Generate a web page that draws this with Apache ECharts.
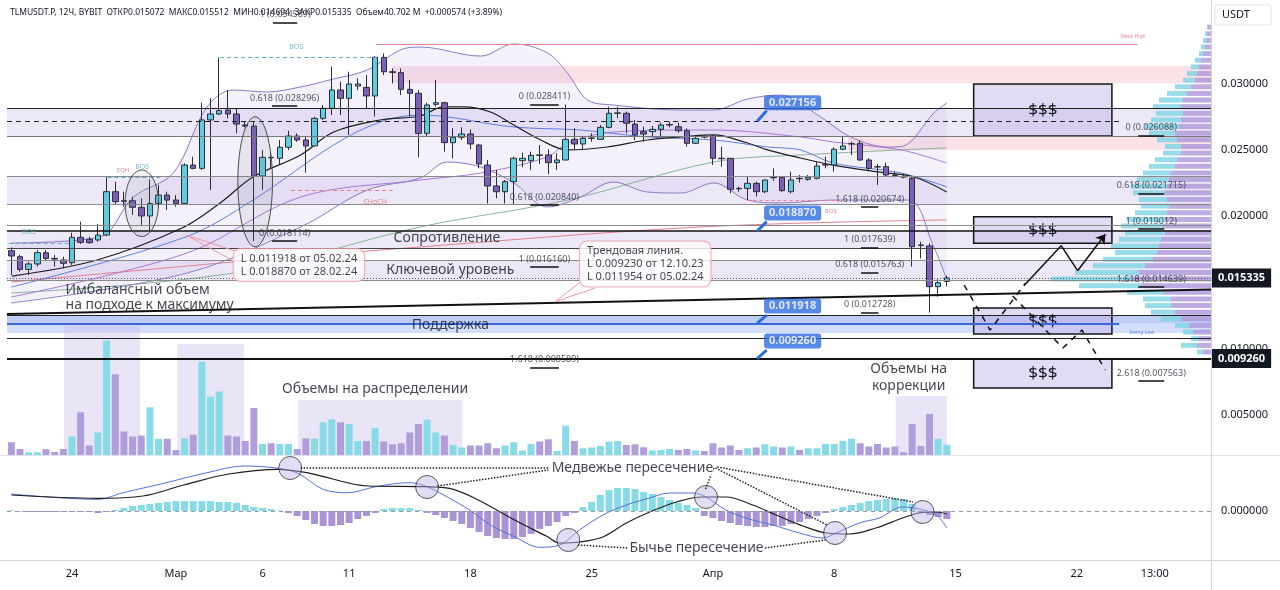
<!DOCTYPE html>
<html><head><meta charset="utf-8">
<script src="https://cdn.jsdelivr.net/npm/echarts@6/dist/echarts.min.js"></script>
<style>html,body{margin:0;padding:0;background:#fff}#c{width:1280px;height:590px}</style>
</head><body><div id="c"></div>
<script>
// ---------- time axis (12h slots) ----------
const START = Date.UTC(2024, 1, 20, 12, 0);
const SLOT_COUNT = 139;
const categories = [];
for (let i = 0; i < SLOT_COUNT; i++) {
  categories.push(new Date(START + i * 12 * 3600e3).toISOString().slice(0, 16).replace('T', ' '));
}
const xTickLabels = {7:'24',19:'Мар',29:'6',39:'11',53:'18',67:'25',81:'Апр',95:'8',109:'15',123:'22',132:'13:00'};
const priceTicks = [0.005, 0.010, 0.020, 0.025, 0.030];

// ---------- candles [open, close, low, high] ----------
const candles = [
[0.01739,0.01699,0.01553,0.01764],[0.01694,0.01598,0.01581,0.01707],[0.01598,0.01639,0.01556,0.01656],[0.01639,0.01724,0.01619,0.01744],
[0.01724,0.01681,0.01669,0.01744],[0.01681,0.01676,0.01619,0.01707],[0.01669,0.01644,0.01606,0.01694],[0.01649,0.01840,0.01631,0.01875],
[0.01840,0.01802,0.01790,0.01958],[0.01825,0.01800,0.01790,0.01845],[0.01820,0.01857,0.01807,0.01940],[0.01857,0.02184,0.01850,0.02292],
[0.02184,0.02109,0.02084,0.02260],[0.02116,0.02112,0.02071,0.02184],[0.02116,0.02066,0.02008,0.02147],[0.02066,0.02001,0.01933,0.02134],
[0.02001,0.02096,0.01890,0.02277],[0.02096,0.02159,0.02066,0.02235],[0.02159,0.02121,0.02046,0.02184],[0.02121,0.02096,0.02071,0.02159],
[0.02096,0.02385,0.02091,0.02398],[0.02385,0.02360,0.02353,0.02448],[0.02360,0.02725,0.02348,0.02855],[0.02725,0.02770,0.02197,0.02888],
[0.02770,0.02795,0.02762,0.03197],[0.02800,0.02770,0.02737,0.02951],[0.02770,0.02694,0.02624,0.02813],[0.02687,0.02679,0.02669,0.02712],
[0.02679,0.02302,0.01811,0.02712],[0.02302,0.02443,0.02197,0.02498],[0.02443,0.02440,0.02360,0.02478],[0.02436,0.02519,0.02393,0.02574],
[0.02519,0.02604,0.02498,0.02644],[0.02604,0.02574,0.02561,0.02624],[0.02574,0.02529,0.02328,0.02599],[0.02529,0.02737,0.02524,0.02750],
[0.02737,0.02813,0.02725,0.02838],[0.02813,0.02951,0.02762,0.03127],[0.02951,0.02888,0.02762,0.03014],[0.02888,0.02996,0.02612,0.03089],
[0.02981,0.02996,0.02951,0.03039],[0.02971,0.02906,0.02813,0.03064],[0.02906,0.03197,0.02750,0.03207],[0.03197,0.03089,0.03064,0.03227],
[0.03089,0.03084,0.03001,0.03114],[0.03082,0.02956,0.02913,0.03114],[0.02956,0.02926,0.02750,0.03026],[0.02926,0.02624,0.02443,0.02951],
[0.02624,0.02838,0.02599,0.02855],[0.02843,0.02855,0.02825,0.03026],[0.02855,0.02554,0.02486,0.02863],[0.02554,0.02594,0.02436,0.02662],
[0.02594,0.02619,0.02574,0.02669],[0.02619,0.02544,0.02504,0.02654],[0.02536,0.02393,0.02360,0.02544],[0.02385,0.02227,0.02096,0.02423],
[0.02227,0.02184,0.02134,0.02348],[0.02184,0.02260,0.02096,0.02272],[0.02260,0.02436,0.02084,0.02448],[0.02418,0.02436,0.02368,0.02478],
[0.02418,0.02458,0.02348,0.02486],[0.02461,0.02458,0.02393,0.02536],[0.02461,0.02403,0.02317,0.02504],[0.02403,0.02423,0.02348,0.02473],
[0.02423,0.02579,0.02423,0.02841],[0.02579,0.02544,0.02498,0.02662],[0.02544,0.02586,0.02498,0.02599],[0.02586,0.02589,0.02561,0.02624],
[0.02579,0.02669,0.02574,0.02687],[0.02669,0.02775,0.02662,0.02825],[0.02775,0.02778,0.02737,0.02825],[0.02775,0.02700,0.02624,0.02788],
[0.02694,0.02612,0.02574,0.02725],[0.02637,0.02619,0.02561,0.02674],[0.02637,0.02654,0.02599,0.02679],[0.02654,0.02687,0.02604,0.02705],
[0.02687,0.02690,0.02669,0.02712],[0.02674,0.02644,0.02629,0.02705],[0.02644,0.02549,0.02524,0.02662],[0.02549,0.02586,0.02544,0.02604],
[0.02599,0.02596,0.02586,0.02612],[0.02604,0.02436,0.02385,0.02612],[0.02436,0.02433,0.02373,0.02524],[0.02436,0.02202,0.02172,0.02436],
[0.02209,0.02206,0.02184,0.02222],[0.02209,0.02247,0.02121,0.02297],[0.02247,0.02184,0.02147,0.02260],[0.02184,0.02272,0.02172,0.02277],
[0.02290,0.02292,0.02267,0.02360],[0.02292,0.02192,0.02184,0.02297],[0.02184,0.02272,0.02172,0.02335],[0.02285,0.02282,0.02252,0.02310],
[0.02277,0.02292,0.02267,0.02310],[0.02285,0.02378,0.02277,0.02410],[0.02385,0.02388,0.02360,0.02448],[0.02385,0.02504,0.02335,0.02519],
[0.02504,0.02529,0.02498,0.02599],[0.02544,0.02546,0.02461,0.02561],[0.02549,0.02423,0.02418,0.02574],[0.02423,0.02360,0.02348,0.02436],
[0.02373,0.02370,0.02235,0.02393],[0.02373,0.02310,0.02297,0.02403],[0.02310,0.02307,0.02292,0.02335],[0.02297,0.02295,0.02285,0.02320],
[0.02285,0.01769,0.01619,0.02297],[0.01782,0.01779,0.01681,0.01807],[0.01775,0.01468,0.01273,0.01795],[0.01468,0.01498,0.01392,0.01523],
[0.015072,0.015335,0.014694,0.015512]
];

// ---------- volume (M) ----------
const volumes = [51,24,11,11,23,12,24,74,171,38,90,458,323,94,74,78,191,65,65,20,67,81,373,233,254,78,74,56,188,44,
47,44,44,24,66,66,131,142,131,124,56,56,108,54,43,47,90,124,142,90,78,40,30,38,38,47,27,38,51,18,
44,54,63,16,117,56,27,30,36,54,56,40,43,31,18,20,24,20,24,18,16,47,30,38,20,27,30,43,34,30,
34,20,27,27,44,44,56,65,47,34,44,30,34,11,124,36,164,65,41];

// ---------- MACD (x1e-5) ----------
const macdHist = [0.5,-0.5,-1,-1,-1,-1,-1,-1,-1,-1,-2,-1,
1,3,5,6,7,8,9,10,10,10,10,10,9,9,8,6,4,3,2,0.5,
-2,-5,-9,-13,-15,-15,-14,-12,-8,-5,-2,
2,3,3,3,1,
-2,-4,-7,-10,-13,-17,-21,-25,-27,-28,-28,-26,-23,-18,-15,-11,-5,-2,
4,9,16,21,23,23,22,19,17,14,11,8,6,3,
-5,-7,-10,-12,-14,-15,-16,-16,-15,-15,-13,-11,-8,-5,-2,
2,4,6,8,10,11,12,13,12,7,
-2,-4,-6,-8];
const macdLine = [[0,17],[10,11.7],[12.9,18.3],[17.6,27.7],[22.3,37.7],[27,45],[30.8,42.7],[33.1,37.7],[36,21.7],[38.8,18.3],[42.1,24.3],[45.9,28.3],[47.8,25],[50.6,12.7],[52.9,1],[55.3,-14],[58.1,-25.7],[61,-36.3],[63.3,-34],[65.6,-19],[68.3,-4],[71,6],[73.7,13],[76,18],[78.7,18],[80.2,14],[82.5,1],[84.8,-7],[87.9,-14],[91,-22],[93.7,-27],[95.2,-22],[97.9,-12],[100.2,-7],[102.9,4],[104.8,2],[106.8,-4],[108,-17]];
const signalLine = [[0,16],[10,12.7],[15.2,15],[19.9,26],[25.1,37],[30.8,41.7],[34.5,37.7],[41.2,25],[47.8,24.3],[50.6,22.7],[53.9,11],[58.1,-9],[61.9,-25.7],[63.3,-32],[65.6,-31],[68.3,-26],[71,-12],[73.7,-1],[76.8,9],[79.8,14],[82.5,14],[85.6,6],[88.3,-4],[91.4,-15],[94.1,-22],[96.8,-23],[99.8,-17],[102.9,-7],[104.8,-2],[106.8,-1],[108,-3]];
const macdCrosses = [[32.2,43],[48,24],[64.3,-29],[80.2,14],[95.1,-22],[105.2,-1]];

// ---------- indicator lines [slot, price] ----------
const maBasis = [[0.1,0.01548],[9.9,0.01669],[19.7,0.0191],[24.1,0.02099],[27.9,0.02295],[33.4,0.02461],[37.2,0.02634],[42.6,0.02725],[47.2,0.02755],[49.9,0.02823],[52.2,0.02823],[55.3,0.02785],[58,0.02687],[61.1,0.02574],[64.2,0.02499],[68.8,0.02521],[73.4,0.02574],[77.3,0.02597],[81.1,0.02612],[85,0.02551],[87.3,0.02499],[91.1,0.02438],[94.9,0.02385],[100,0.02333],[104.2,0.02295],[108,0.02182]];
const bbUpper = [[0,0.01797],[10.2,0.01842],[14.1,0.02144],[18.7,0.02325],[22.6,0.02823],[25.6,0.02951],[29.5,0.02936],[33.4,0.02974],[37.2,0.03034],[41.1,0.03102],[44.9,0.03253],[47.2,0.03275],[54.2,0.03207],[58,0.03298],[61.9,0.0323],[64.2,0.03079],[66.5,0.02876],[69.5,0.02838],[77.3,0.028],[81.1,0.028],[85,0.02883],[88.8,0.02913],[93.1,0.02762],[96.9,0.02597],[101.2,0.02521],[103,0.02529],[106.5,0.02778],[108,0.02853]];
const bbLower = [[0,0.01345],[20.3,0.01571],[33.4,0.01918],[41.1,0.02197],[47.2,0.02287],[50.3,0.02408],[54.2,0.0237],[58,0.0225],[61.9,0.02069],[65.7,0.02144],[69.5,0.02257],[73.4,0.02182],[77.3,0.02174],[81.1,0.0225],[85,0.02121],[88.8,0.02099],[94.9,0.02121],[103.5,0.02121],[106.5,0.01767],[108,0.01518]];
const maBlue = [[0,0.01465],[20.1,0.01842],[27.9,0.02121],[37.2,0.02536],[42.6,0.0271],[47.2,0.02762],[58,0.02672],[65.7,0.02649],[73.4,0.02597],[81.1,0.02574],[87.3,0.02521],[91.1,0.02499],[94.9,0.024],[102.7,0.02325],[108,0.0222]];
const maViolet = [[0,0.0139],[20.3,0.01722],[33.4,0.02144],[47.2,0.02272],[54.2,0.02325],[61.9,0.02446],[64.2,0.02551],[69.5,0.02634],[77.3,0.02649],[81.1,0.02649],[91.1,0.02597],[94.9,0.02559],[102.7,0.02499],[108,0.024]];
const maGreen = [[0,0.0142],[25.6,0.01571],[47.2,0.01918],[64.2,0.02121],[81.1,0.02408],[91.1,0.02461],[108,0.02514]];
const maRed = [[0,0.01503],[25.6,0.01654],[42.6,0.01744],[79.5,0.01918],[108,0.01971]];

// ---------- volume profile (px-width units), bins from 0.0095 step 0.0005 ----------
const vpBins = []; for (let k = 0; k < 50; k++) vpBins.push((0.00975 + k * 0.0005).toFixed(5));
const vpTotal = [14,30,20,28,36,50,60,66,68,84,132,160,136,118,108,96,100,92,86,90,84,76,70,72,78,80,74,68,62,56,48,46,54,62,66,60,55,58,52,44,36,28,24,20,16,12,10,8,6,4];
const vpDown  = [8,14,12,18,22,30,36,40,40,48,70,78,72,66,58,54,52,50,46,48,46,44,42,44,46,44,42,40,36,34,30,30,34,36,32,30,28,30,28,24,20,16,14,12,10,8,6,5,4,3];

// ---------- levels ----------
const lastPrice = 0.015335;
const levelLines = [[0.02813,'#222',1],[0.02604,'#777',1],[0.02297,'#8a8a8a',1],[0.02089,'#8a8a8a',1],[0.01933,'#8a8a8a',1],[0.01887,'#111',1.5],[0.01757,'#444',1],[0.01669,'#8a8a8a',1],[0.01515,'#8a8a8a',1],[0.01255,'#222',1],[0.01081,'#222',1]];
const lavenderZones = [[0.02813,0.02604],[0.02297,0.02089],[0.01887,0.01757],[0.01669,0.01515]];
const fibLevels = [
['1 (0.034589)',0.034589,30.2,33.0],['0.618 (0.028296)',0.028296,30.1,33.0],['0 (0.018114)',0.018114,30.1,33.0],
['0 (0.028411)',0.028411,59.9,63.2],['0.618 (0.020840)',0.02084,59.9,63.2],['1 (0.016160)',0.01616,59.9,63.2],['1.618 (0.008589)',0.008589,59.9,63.2],
['1.618 (0.020674)',0.020674,98.1,100.1],['1 (0.017639)',0.017639,98.1,100.1],['0.618 (0.015763)',0.015763,98.1,100.1],['0 (0.012728)',0.012728,98.1,100.1],
['0 (0.026088)',0.026088,130.1,133.1],['0.618 (0.021715)',0.021715,130.1,133.1],['1 (0.019012)',0.019012,130.1,133.1],['1.618 (0.014639)',0.014639,130.1,133.1],['2.618 (0.007563)',0.007563,130.1,133.1]
];
const blueTags = [[0.027156,0.02855,0.02795],[0.01887,0.02023,0.01958],[0.011918,0.01322,0.01254],[0.00926,0.01058,0.0099]];
const moneyBoxes = [[0.02996,0.02604],[0.01995,0.01795],[0.01307,0.01111],[0.00922,0.00704]];
const zigzagSolid = [[116.9,0.014751],[121.2,0.017768],[123.1,0.015883]];
const zigzagArrow = [[123.1,0.015883],[126.3,0.018627]];
const dashedA = [[110.0,0.0148],[113.0,0.01141],[117.1,0.014955]];
const dashedB = [[115.6,0.013974],[121.4,0.010053],[123.6,0.01141],[126.3,0.008394]];
const ellipses = [[15.06,0.02097,1.93,0.00251],[28.15,0.02259,2.0,0.0049]];
const volumeZones = [[6.09,14.87,532],[19.14,26.88,444],[33.12,52.07,220],[102.1,108.0,236]];

// ---------- helpers ----------
const FULL0 = -0.5, FULL1 = SLOT_COUNT - 0.5;
const UP = '#5fcde0', DOWN = '#7c5fb8';
function hl(p, v1, v2, color, width, type, label) {
  return [{coord:[v1,p], lineStyle:{color, width, type:type||'solid'}, label: label || {show:false}}, {coord:[v2,p]}];
}
function seg(a, b, color, width, type) {
  return [{coord:a, lineStyle:{color, width, type:type||'solid'}}, {coord:b}];
}
function txt(v, p, text, opt) {
  return {value:[v,p], label:Object.assign({show:true, formatter:text, position:'inside', color:'#131722', fontSize:14, fontFamily:'"Noto Sans", sans-serif'}, opt||{})};
}
function textSeries(items, xi, yi, z) {
  return {type:'scatter', xAxisIndex:xi, yAxisIndex:yi, symbolSize:1, itemStyle:{color:'rgba(0,0,0,0)'}, silent:true, z:z||8, data:items};
}
function hostSeries(xi, yi, z, extra) {
  return Object.assign({type:'line', xAxisIndex:xi, yAxisIndex:yi, data:[], z, silent:true, symbol:'none'}, extra);
}
function maSeries(pts, color, width) {
  return {type:'line', xAxisIndex:1, yAxisIndex:0, data:pts, smooth:0.35, symbol:'none', lineStyle:{color, width:width||1}, z:3, silent:true};
}

// ---------- build marks ----------
const levelMarks = [];
levelLines.forEach(l => levelMarks.push(hl(l[0], FULL0, FULL1, l[1], l[2])));
levelMarks.push(hl(0.027156, FULL0, 128.1, '#222', 1, [5,4]));
levelMarks.push(hl(0.011918, FULL0, 127.9, '#3a68d8', 2.2));
levelMarks.push(hl(0.03298, 42.1, 130, '#ec7f8e', 1));
levelMarks.push(hl(0.02197, 32.3, 44, '#ec7f8e', 1, [4,3]));
levelMarks.push(hl(0.03198, 24.1, 42.1, '#5ab4c8', 1, [4,3]));
levelMarks.push(hl(0.02293, 11.1, 17.2, '#5ab4c8', 1, [4,3]));
levelMarks.push(hl(0.01795, -0.3, 7.1, '#5ab4c8', 1, [4,3]));
levelMarks.push(hl(0.02121, 85, 96, '#ec7f8e', 1, [3,3]));
levelMarks.push(seg([FULL0,0.012617],[FULL1,0.014465],'#111',2));
levelMarks.push(hl(lastPrice, FULL0, FULL1, '#555', 1, [1,2], {show:true, position:'end', distance:1, formatter:'0.015335', backgroundColor:'#131722', color:'#fff', padding:[4,6], fontSize:11, fontWeight:'bold'}));
levelMarks.push(hl(0.00926, FULL0, FULL1, '#111', 2, 'solid', {show:true, position:'end', distance:1, formatter:'0.009260', backgroundColor:'#131722', color:'#fff', padding:[4,6], fontSize:11, fontWeight:'bold'}));
fibLevels.forEach(f => levelMarks.push(hl(f[1], f[2], f[3], '#111', 1.5)));
blueTags.forEach(t => levelMarks.push(seg([86.1,t[0]],[87.2,t[2]],'#2f6be0',3)));
// callout tails
levelMarks.push(seg([20.18,0.018575],[25.84,0.017368],'#ef9aa6',1));
levelMarks.push(seg([20.18,0.018575],[25.84,0.016538],'#ef9aa6',1));
levelMarks.push(seg([62.8,0.013544],[65.7,0.01503],'#ef9aa6',1));
levelMarks.push(seg([62.8,0.013544],[67.4,0.014578],'#ef9aa6',1));

const zoneMarks = [];
lavenderZones.forEach(z => zoneMarks.push([{coord:[FULL0,z[0]], itemStyle:{color:'rgba(200,188,232,0.35)'}},{coord:[FULL1,z[1]]}]));
zoneMarks.push([{coord:[44,0.03132], itemStyle:{color:'rgba(246,178,190,0.38)'}},{coord:[FULL1,0.03002]}]);
zoneMarks.push([{coord:[96.6,0.02599], itemStyle:{color:'rgba(246,178,190,0.38)'}},{coord:[FULL1,0.02499]}]);
zoneMarks.push([{coord:[FULL0,0.01255], itemStyle:{color:'rgba(110,145,232,0.45)'}},{coord:[FULL1,0.01192]}]);
zoneMarks.push([{coord:[FULL0,0.01192], itemStyle:{color:'rgba(140,170,238,0.38)'}},{coord:[FULL1,0.01119]}]);

const boxMarks = moneyBoxes.map(b => [{coord:[111.1,b[0]], itemStyle:{color:'rgba(190,175,230,0.45)', borderColor:'#151515', borderWidth:1.5},
  label:{show:true, position:'inside', formatter:'$$$', fontSize:17, color:'#131722'}},{coord:[127.06,b[1]]}]);

const mainTexts = [
  txt(50.28,0.018326,'Сопротивление'),
  txt(50.68,0.015935,'Ключевой уровень'),
  txt(50.68,0.011787,'Поддержка'),
  txt(6.2,0.013861,'Имбалансный объем\nна подходе к максимуму',{position:'right', distance:0, align:'left', lineHeight:15}),
  txt(25.61,0.016312,'L 0.011918 от 05.02.24\nL 0.018870 от 28.02.24',{position:'right', distance:0, align:'left', fontSize:11, lineHeight:13, backgroundColor:'#fff', borderColor:'#ef9aa6', borderWidth:1, borderRadius:7, padding:[3,7]}),
  txt(65.59,0.016388,'Трендовая линия.\nL 0.009230 от 12.10.23\nL 0.011954 от 05.02.24',{position:'right', distance:0, align:'left', fontSize:11, lineHeight:13, backgroundColor:'#fff', borderColor:'#ef9aa6', borderWidth:1, borderRadius:7, padding:[3,7]}),
  txt(42.0,0.02106,'CHoCH',{fontSize:7,color:'#e06b7d'}),
  txt(12.9,0.02348,'EQH',{fontSize:6,color:'#e06b7d'}),
  txt(32.9,0.03275,'BOS',{fontSize:7,color:'#4fb0c6'}),
  txt(15.1,0.0237,'BOS',{fontSize:7,color:'#4fb0c6'}),
  txt(2.04,0.0188,'BOS',{fontSize:7,color:'#4fb0c6'}),
  txt(94.6,0.02038,'BOS',{fontSize:6,color:'#e06b7d'}),
  txt(129.5,0.03355,'Weak High',{fontSize:5,color:'#e06b7d'}),
  txt(130.5,0.01125,'Swing Low',{fontSize:5,color:'#3a68d8'})
];
fibLevels.forEach(f => mainTexts.push(txt((f[2]+f[3])/2, f[1], f[0], {position:'top', distance:3, fontSize:9, color:'#2a2e39'})));
blueTags.forEach(t => mainTexts.push(txt(90.2, t[1], t[0].toFixed(6), {fontSize:11, fontWeight:'bold', color:'#fff', backgroundColor:'#2f6be0', borderRadius:3, padding:[2,5]})));

const volTexts = [
  txt(42.0,264,'Объемы на распределении'),
  txt(103.6,308,'Объемы на\nкоррекции',{lineHeight:17})
];
const volZoneMarks = volumeZones.map(z => [{coord:[z[0],0], itemStyle:{color:'rgba(200,185,235,0.38)'}},{coord:[z[1],z[2]]}]);

const macdTexts = [
  txt(71.7,43,'Медвежье пересечение',{backgroundColor:'#fff'}),
  txt(79.1,-37,'Бычье пересечение',{backgroundColor:'#fff'})
];
const macdDots = [
  seg([33.4,43],[62.0,43],'#222',1.5,'dotted'),
  seg([49.2,25],[62.0,41],'#222',1.5,'dotted'),
  seg([81.1,43],[80.1,21],'#222',1.5,'dotted'),
  seg([81.3,43],[94.2,-14],'#222',1.5,'dotted'),
  seg([81.5,44],[104.1,9],'#222',1.5,'dotted'),
  seg([65.4,-34],[71.2,-37],'#222',1.5,'dotted'),
  seg([87,-37],[94,-29],'#222',1.5,'dotted'),
  seg([FULL0,0],[FULL1,0],'#9598a1',1,[4,4])
];

// ---------- chart ----------
const chart = echarts.init(document.getElementById('c'));
const gl = {left:7, right:69, containLabel:false, outerBoundsMode:'none'};
const option = {
  animation:false,
  backgroundColor:'#ffffff',
  textStyle:{fontFamily:'"Noto Sans", sans-serif'},
  grid:[
    Object.assign({top:17.2, height:464.1}, gl),
    Object.assign({top:315, height:140}, gl),
    Object.assign({top:455, height:105}, gl),
    {left:1041, right:69, top:23.8, height:331.5, containLabel:false, outerBoundsMode:'none'}
  ],
  xAxis:[
    {type:'category', gridIndex:0, data:categories, show:false},
    {type:'value', gridIndex:0, min:FULL0, max:FULL1, show:false},
    {type:'category', gridIndex:1, data:categories, show:false},
    {type:'value', gridIndex:1, min:FULL0, max:FULL1, show:false},
    {type:'category', gridIndex:2, data:categories, axisLine:{show:false}, axisTick:{show:false}, splitLine:{show:false},
      axisLabel:{interval:(i)=>xTickLabels[i]!==undefined, formatter:(v,i)=>xTickLabels[i]||'', color:'#131722', fontSize:11, margin:8,
        fontWeight:'normal'}},
    {type:'value', gridIndex:2, min:FULL0, max:FULL1, show:false},
    {type:'value', gridIndex:3, min:0, max:170, inverse:true, show:false}
  ],
  yAxis:[
    {type:'value', gridIndex:0, min:0, max:0.035, interval:0.005, position:'right', axisLine:{show:false}, axisTick:{show:false}, splitLine:{show:false},
      axisLabel:{margin:10, color:'#131722', fontSize:11, formatter:(v)=>priceTicks.some(t=>Math.abs(t-v)<1e-9)?v.toFixed(6):''}},
    {type:'value', gridIndex:1, min:0, max:560, show:false},
    {type:'value', gridIndex:2, min:-49, max:56, position:'right', axisLine:{show:false}, axisTick:{show:false}, splitLine:{show:false},
      axisLabel:{margin:10, color:'#131722', fontSize:11, formatter:(v)=>Math.abs(v)<1e-9?'0.000000':''}},
    {type:'category', gridIndex:3, data:vpBins, show:false}
  ],
  series:[
    hostSeries(1,0,1,{markArea:{silent:true, label:{show:false}, data:zoneMarks}}),
    {type:'custom', xAxisIndex:1, yAxisIndex:0, data:[[0,0]], z:1, silent:true,
      renderItem:(params, api)=>{
        const pts = bbUpper.map(d=>api.coord(d)).concat(bbLower.slice().reverse().map(d=>api.coord(d)));
        return {type:'polygon', shape:{points:pts}, style:{fill:'rgba(185,170,228,0.16)'}};
      }},
    // volume profile
    {type:'bar', xAxisIndex:6, yAxisIndex:3, stack:'vp', data:vpDown, barWidth:5, itemStyle:{color:'rgba(172,150,218,0.8)'}, z:2, silent:true},
    {type:'bar', xAxisIndex:6, yAxisIndex:3, stack:'vp', data:vpTotal.map((t,i)=>t-vpDown[i]), barWidth:5, itemStyle:{color:'rgba(125,212,228,0.8)'}, z:2, silent:true},
    hostSeries(1,0,3,{markLine:{silent:true, symbol:['none','none'], label:{show:false}, data:levelMarks}}),
    hostSeries(1,0,3,{markArea:{silent:true, label:{show:false}, data:boxMarks}}),
    maSeries(maGreen,'#86b596',1),
    maSeries(maRed,'#e4808e',1),
    maSeries(maViolet,'#a978d8',1),
    maSeries(maBlue,'#5d7fe0',1),
    maSeries(bbUpper,'#8c7cc4',1),
    maSeries(bbLower,'#8c7cc4',1),
    maSeries(maBasis,'#1e1e1e',1.2),
    {type:'custom', xAxisIndex:1, yAxisIndex:0, data:ellipses, z:5, silent:true,
      renderItem:(params, api)=>{
        const c = api.coord([api.value(0), api.value(1)]);
        const e = api.coord([api.value(0)+api.value(2), api.value(1)+api.value(3)]);
        const rx = Math.abs(e[0]-c[0]), ry = Math.abs(e[1]-c[1]);
        const pts = [];
        for (let k=0;k<60;k++){const a=k/60*Math.PI*2; pts.push([c[0]+rx*Math.cos(a), c[1]+ry*Math.sin(a)]);}
        return {type:'polygon', shape:{points:pts}, style:{fill:'rgba(120,120,140,0.10)', stroke:'#4a4a4a', lineWidth:1}};
      }},
    {type:'candlestick', xAxisIndex:0, yAxisIndex:0, data:candles, barWidth:6, z:4, silent:true,
      itemStyle:{color:UP, color0:DOWN, borderColor:'#2a2e39', borderColor0:'#2a2e39', borderWidth:1}},
    {type:'line', xAxisIndex:1, yAxisIndex:0, data:zigzagSolid, symbol:'none', lineStyle:{color:'#111', width:1.5}, z:5, silent:true,
      markLine:{silent:true, symbol:['none','arrow'], symbolSize:9, label:{show:false}, data:[seg(zigzagArrow[0], zigzagArrow[1], '#111', 1.5)]}},
    {type:'line', xAxisIndex:1, yAxisIndex:0, data:dashedA, symbol:'none', lineStyle:{color:'#111', width:1.5, type:[6,6]}, z:5, silent:true},
    {type:'line', xAxisIndex:1, yAxisIndex:0, data:dashedB, symbol:'none', lineStyle:{color:'#111', width:1.5, type:[6,6]}, z:5, silent:true},
    textSeries(mainTexts,1,0,8),
    // volume
    hostSeries(3,1,1,{markArea:{silent:true, label:{show:false}, data:volZoneMarks}}),
    {type:'bar', xAxisIndex:2, yAxisIndex:1, data:volumes, barWidth:7, z:2, silent:true,
      itemStyle:{color:(p)=>candles[p.dataIndex][1]>=candles[p.dataIndex][0]?'#86dbe7':'#b09edc'}},
    textSeries(volTexts,3,1,8),
    // MACD
    {type:'bar', xAxisIndex:4, yAxisIndex:2, data:macdHist, barWidth:7, z:2, silent:true,
      itemStyle:{color:(p)=>p.value>=0?'#86dbe7':'#a994d8'}},
    hostSeries(5,2,3,{markLine:{silent:true, symbol:['none','none'], label:{show:false}, data:macdDots}}),
    {type:'line', xAxisIndex:5, yAxisIndex:2, data:macdLine, smooth:0.35, symbol:'none', lineStyle:{color:'#5470d6', width:1}, z:3, silent:true},
    {type:'line', xAxisIndex:5, yAxisIndex:2, data:signalLine, smooth:0.35, symbol:'none', lineStyle:{color:'#1e1e1e', width:1.2}, z:3, silent:true},
    {type:'scatter', xAxisIndex:5, yAxisIndex:2, data:macdCrosses, symbolSize:23, z:4, silent:true,
      itemStyle:{color:'rgba(190,178,232,0.55)', borderColor:'#333', borderWidth:1}},
    textSeries(macdTexts,5,2,8)
  ],
  graphic:[
    {type:'line', shape:{x1:0,y1:455.5,x2:1280,y2:455.5}, style:{stroke:'#e0e3eb', lineWidth:1}, z:50},
    {type:'line', shape:{x1:0,y1:560.5,x2:1280,y2:560.5}, style:{stroke:'#d1d4dc', lineWidth:1}, z:50},
    {type:'line', shape:{x1:1211.5,y1:0,x2:1211.5,y2:590}, style:{stroke:'#d1d4dc', lineWidth:1}, z:50},
    {type:'rect', shape:{x:1215,y:5,width:56,height:20,r:2}, style:{fill:'#fff', stroke:'#e0e3eb', lineWidth:1}, z:50},
    {type:'text', x:1222, y:9, style:{text:'USDT', font:'11px "Noto Sans"', fill:'#131722'}, z:51},
    {type:'text', x:10, y:8, style:{text:'TLMUSDT.P, 12Ч, BYBIT  ОТКР0.015072  МАКС0.015512  МИН0.014694  ЗАКР0.015335  Объем40.702 M  +0.000574 (+3.89%)', font:'8.5px "Noto Sans"', fill:'#131722'}, z:51}
  ]
};
chart.setOption(option);
</script>
</body></html>
